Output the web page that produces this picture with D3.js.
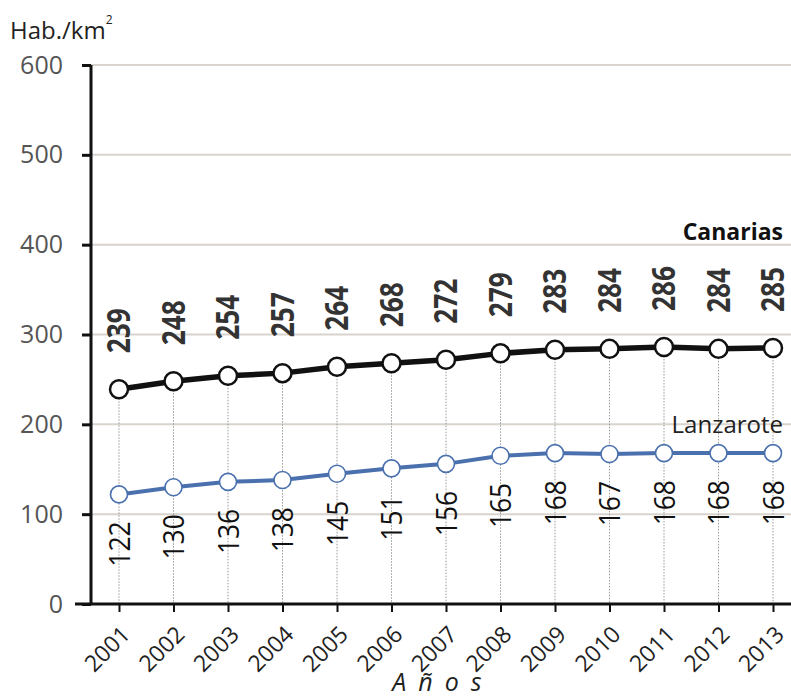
<!DOCTYPE html>
<html>
<head>
<meta charset="utf-8">
<script src="https://cdnjs.cloudflare.com/ajax/libs/d3/7.8.5/d3.min.js"></script>
<style>
  body { margin: 0; background: #fff; }
  svg text { font-family: "Open Sans", "Noto Sans", sans-serif; }
</style>
</head>
<body>
<svg id="chart"></svg>
<script>
'use strict';
// data
var years = ['2001','2002','2003','2004','2005','2006','2007','2008','2009','2010','2011','2012','2013'];
var canarias = [239,248,254,257,264,268,272,279,283,284,286,284,285];
var lanzarote = [122,130,136,138,145,151,156,165,168,167,168,168,168];
var yTicks = [0,100,200,300,400,500,600];

var canvasWidth = 791,
    canvasHeight = 697,
    svg = d3.select('#chart')
      .attr('width', canvasWidth)
      .attr('height', canvasHeight);

var xScale = d3.scalePoint().domain(years).range([119, 773]);
var yScale = d3.scaleLinear().domain([0, 600]).range([604, 65]);
var axisX = 91;

// gridlines
svg.append('g').selectAll('line')
  .data(yTicks.filter(function(d) { return d > 0; }))
  .enter().append('line')
    .attr('x1', axisX).attr('x2', canvasWidth)
    .attr('y1', function(d) { return yScale(d); })
    .attr('y2', function(d) { return yScale(d); })
    .attr('stroke', '#d8d3cd').attr('stroke-width', 2);

// dotted drop lines
svg.append('g').selectAll('line')
  .data(years)
  .enter().append('line')
    .attr('x1', function(d) { return xScale(d); })
    .attr('x2', function(d) { return xScale(d); })
    .attr('y1', function(d, i) { return yScale(canarias[i]); })
    .attr('y2', yScale(0))
    .attr('stroke', '#999').attr('stroke-width', 1)
    .attr('stroke-dasharray', '1.5,1.5');

// y axis
var yAxis = svg.append('g')
  .attr('transform', 'translate(' + axisX + ',0)')
  .call(d3.axisLeft(yScale).tickValues(yTicks).tickSize(9).tickPadding(19));
yAxis.select('.domain').attr('stroke', '#111').attr('stroke-width', 3)
  .attr('d', 'M0,' + yScale(600) + 'V' + yScale(0));
yAxis.selectAll('.tick line').attr('stroke', '#111').attr('stroke-width', 3);
yAxis.selectAll('.tick text').attr('fill', '#555').style('font-size', '25px');

// x axis
var xAxis = svg.append('g')
  .attr('transform', 'translate(0,' + yScale(0) + ')')
  .call(d3.axisBottom(xScale).tickSize(8).tickSizeOuter(0));
xAxis.select('.domain').attr('stroke', '#111').attr('stroke-width', 3)
  .attr('d', 'M' + (axisX - 16) + ',0H' + canvasWidth);
xAxis.selectAll('.tick line').attr('stroke', '#111').attr('stroke-width', 2);
xAxis.selectAll('.tick text')
  .attr('fill', '#222')
  .style('font-size', '23px')
  .attr('text-anchor', 'end')
  .attr('x', 0).attr('y', 0).attr('dy', 0)
  .attr('transform', 'translate(12,32) rotate(-45)');

// lines
var line = function(vals) {
  return d3.line()
    .x(function(d, i) { return xScale(years[i]); })
    .y(function(d) { return yScale(d); })(vals);
};

svg.append('path').attr('d', line(lanzarote))
  .attr('fill', 'none').attr('stroke', '#4a70ad').attr('stroke-width', 4);
svg.append('path').attr('d', line(canarias))
  .attr('fill', 'none').attr('stroke', '#111').attr('stroke-width', 5.5);

svg.append('g').selectAll('circle')
  .data(lanzarote)
  .enter().append('circle')
    .attr('cx', function(d, i) { return xScale(years[i]); })
    .attr('cy', function(d) { return yScale(d); })
    .attr('r', 8.5)
    .attr('fill', '#fff').attr('stroke', '#4a70ad').attr('stroke-width', 1.6);

svg.append('g').selectAll('circle')
  .data(canarias)
  .enter().append('circle')
    .attr('cx', function(d, i) { return xScale(years[i]); })
    .attr('cy', function(d) { return yScale(d); })
    .attr('r', 9)
    .attr('fill', '#fff').attr('stroke', '#111').attr('stroke-width', 2.5);

// value labels
svg.append('g').selectAll('text')
  .data(canarias)
  .enter().append('text')
    .attr('transform', function(d, i) {
      return 'translate(' + (xScale(years[i]) + 11) + ',' + (yScale(d) - 36) + ') rotate(-90) scale(0.82,1)';
    })
    .attr('text-anchor', 'start')
    .attr('fill', '#333')
    .style('font-size', '32px')
    .style('font-weight', 'bold')
    .text(function(d) { return d; });

svg.append('g').selectAll('text')
  .data(lanzarote)
  .enter().append('text')
    .attr('transform', function(d, i) {
      return 'translate(' + (xScale(years[i]) + 10.5) + ',' + (yScale(d) + 27) + ') rotate(-90) scale(0.88,1)';
    })
    .attr('text-anchor', 'end')
    .attr('fill', '#111')
    .style('font-size', '30px')
    .text(function(d) { return d; });

// series names
svg.append('text').attr('x', 783).attr('y', 240)
  .attr('text-anchor', 'end').attr('fill', '#111')
  .style('font-size', '23px').style('font-weight', 'bold')
  .text('Canarias');
svg.append('text').attr('x', 783).attr('y', 433)
  .attr('text-anchor', 'end').attr('fill', '#222')
  .style('font-size', '24px')
  .text('Lanzarote');

// axis titles
var yt = svg.append('text').attr('x', 10).attr('y', 39)
  .attr('fill', '#222').style('font-size', '24px');
yt.append('tspan').text('Hab./km');
yt.append('tspan').attr('dy', -15).style('font-size', '12px').text('2');

svg.append('text').attr('x', 443).attr('y', 691)
  .attr('text-anchor', 'middle').attr('fill', '#222')
  .style('font-size', '25px').style('font-style', 'italic')
  .style('letter-spacing', '12px')
  .text('Años');
</script>
</body>
</html>
